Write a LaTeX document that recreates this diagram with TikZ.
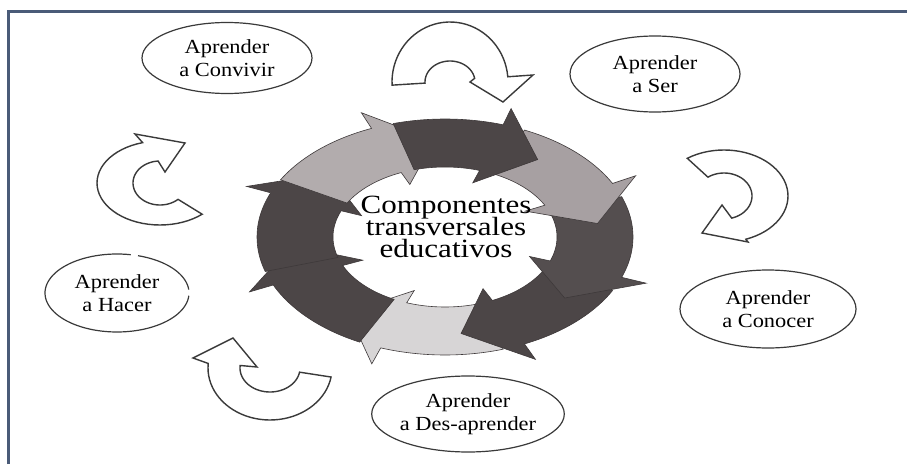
\documentclass[tikz,border=0pt]{standalone}
\usepackage{fontspec}
\setmainfont{Liberation Serif}
\newfontfamily\lblfont[FakeStretch=1.12]{Liberation Serif}
\newfontfamily\hubfont[FakeStretch=1.18]{Liberation Serif}
\usetikzlibrary{shapes.geometric}

\definecolor{framec}{HTML}{4A5B78}
\definecolor{inkc}{HTML}{3A3A3A}
\definecolor{ringedge}{HTML}{3E393A}
\definecolor{ringdark}{HTML}{4C4647}
\definecolor{ringdarkb}{HTML}{544E4F}
\definecolor{ringlight}{HTML}{B2ACAD}
\definecolor{ringmid}{HTML}{A7A0A2}
\definecolor{ringpale}{HTML}{D7D5D6}

\begin{document}
\lineskiplimit=-50pt
\begin{tikzpicture}[x=1pt,y=1pt,
  lbl/.style={ellipse, draw=inkc, line width=1.2pt, inner sep=0pt, align=center,
              font=\lblfont\fontsize{20}{23}\selectfont},
  hubtext/.style={align=center, inner sep=0pt,
              font=\hubfont\fontsize{26.3}{22}\selectfont},
  ringpart/.style={draw=ringedge, line width=0.6pt},
  bent/.style={draw=inkc, line width=1.4pt, fill=white, line join=miter}]

\useasboundingbox (0,0) rectangle (907,464);
\fill[white] (0,0) rectangle (907,464);

% page frame (top and left rules)
\draw[framec, line width=2.5pt] (8.5,0) -- (8.5,452.5) -- (907,452.5);

% ring of eight block arrows running clockwise
\begin{scope}[shift={(445,227)}]
\foreach \t/\b/\c in {-72/-110/ringpale, -117/-156/ringdark, -163/-202/ringdark,
                      151/113/ringlight, -27/-65/ringdark, 20/-20/ringdarkb,
                      65/27/ringmid, 106/72/ringdark}{
  \filldraw[ringpart, fill=\c]
    plot[domain=\t:\b, samples=24] ({188*cos(\x)},{118*sin(\x)})
    -- ({214*cos(\b)},{135*sin(\b)})
    -- ({154*cos(\b-19)},{97*sin(\b-19)})
    -- ({90*cos(\b)},{57*sin(\b)})
    -- plot[domain=\b:\t, samples=24] ({112*cos(\x)},{70*sin(\x)})
    -- cycle;
}
\end{scope}

% hub text
\node[hubtext] (hub) at (446,237) {Componentes\\transversales\\educativos};

% outlined curved arrows between the labels:
% centre, outer radii, inner radii, tail angle, outer/inner end angles,
% outer barb, tip and inner barb (relative to the centre)
\foreach \cx/\cy/\ox/\oy/\ix/\iy/\t/\eo/\ei/\obx/\oby/\tx/\ty/\ibx/\iby in {
  450/382/58/60/25/21/183/5/10/83/7/53/-20/20/0,
  724/268/64/46/28/23/125/-70/-74/24/-46/-22/-37/-2/-9,
  160/281/63/42/27/22/-48/-254/-266/-25/49/25/40/5/11,
  270/96/62/52/30/24/-10/-185/-186/-77/10/-37/30/-13/1}{
  \begin{scope}[shift={(\cx,\cy)}]
  \filldraw[bent]
    plot[domain=\t:\eo, samples=40] ({\ox*cos(\x)},{\oy*sin(\x)})
    -- (\obx,\oby) -- (\tx,\ty) -- (\ibx,\iby)
    -- plot[domain=\ei:\t, samples=40] ({\ix*cos(\x)},{\iy*sin(\x)})
    -- cycle;
  \end{scope}
}

% labels
\node[lbl, minimum width=170pt, minimum height=71pt] (convivir) at (227,406) {Aprender\\a Convivir};
\node[lbl, minimum width=170pt, minimum height=76pt] (ser) at (655,390) {Aprender\\a Ser};
\node[lbl, minimum width=176pt, minimum height=78pt] (conocer) at (768,155) {Aprender\\a Conocer};
\node[lbl, draw=none, minimum width=144pt, minimum height=78pt] (hacer) at (117,171) {Aprender\\a Hacer};
\draw[draw=inkc, line width=1.2pt]
  plot[domain=5:73, samples=30] ({117+72*cos(\x)},{171+39*sin(\x)});
\draw[draw=inkc, line width=1.2pt]
  plot[domain=79:356, samples=80] ({117+72*cos(\x)},{171+39*sin(\x)});
\node[lbl, minimum width=176pt, minimum height=76pt] (desap) at (468,50) {Aprender\\a Des-aprender};

\end{tikzpicture}
\end{document}
